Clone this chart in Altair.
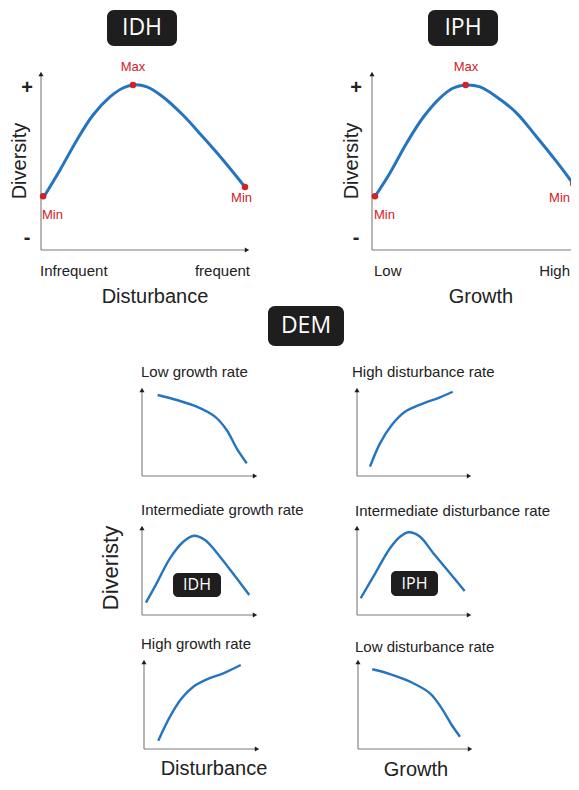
import altair as alt
import pandas as pd

# ---------------- data (local units: 0-10 along each axis) ----------------
# Top panels: hump-shaped diversity curves
idh_x = [0.19, 0.91, 1.72, 2.49, 3.30, 3.92, 4.40, 5.07, 5.84, 6.79, 7.75, 8.71, 9.76]
idh_y = [3.07, 4.47, 6.15, 7.54, 8.55, 9.05, 9.22, 9.11, 8.55, 7.54, 6.31, 5.03, 3.52]
iph_x = [0.19, 0.86, 1.66, 2.46, 3.25, 3.89, 4.48, 5.17, 5.97, 6.92, 7.88, 8.84, 9.63]
iph_y = [3.07, 4.30, 5.98, 7.43, 8.49, 9.05, 9.22, 9.11, 8.55, 7.65, 6.31, 4.92, 3.69]

# DEM small panels
low_growth_x = [1.35, 2.99, 4.71, 6.29, 7.30, 8.16, 9.03]
low_growth_y = [9.10, 8.54, 7.79, 6.67, 5.17, 3.11, 1.43]
high_dist_x = [1.13, 2.00, 3.02, 4.17, 5.77, 7.22, 8.32]
high_dist_y = [1.05, 3.67, 5.73, 7.22, 8.17, 8.84, 9.47]
int_growth_x = [0.34, 1.26, 2.41, 3.56, 4.48, 5.43, 6.72, 8.16, 9.25]
int_growth_y = [1.37, 3.52, 6.30, 8.14, 8.81, 8.33, 6.48, 4.08, 2.22]
int_dist_x = [0.32, 1.42, 2.87, 3.74, 4.52, 5.48, 6.64, 8.09, 9.36]
int_dist_y = [1.86, 4.26, 7.41, 8.70, 9.19, 8.70, 6.86, 4.63, 2.67]
high_growth_x = [1.23, 2.24, 3.25, 4.25, 5.41, 6.84, 8.34]
high_growth_y = [0.92, 3.59, 5.63, 6.92, 7.74, 8.41, 9.33]
low_dist_x = [1.24, 2.78, 4.52, 6.26, 7.28, 8.15, 8.87]
low_dist_y = [8.86, 8.33, 7.48, 6.19, 4.52, 2.67, 1.37]

# Marked points (Min, Max, Min) on the top curves
idh_mark_x = [0.10, 4.40, 9.76]
idh_mark_y = [3.00, 9.22, 3.52]
iph_mark_x = [0.14, 4.48, 9.63]
iph_mark_y = [3.00, 9.22, 3.69]
mark_labels = ["Min", "Max", "Min"]

# Texts
badge_top = ["IDH", "IPH"]
badge_mid = ["DEM"]
badge_small = ["IDH", "IPH"]
dem_titles = ["Low growth rate", "High disturbance rate",
              "Intermediate growth rate", "Intermediate disturbance rate",
              "High growth rate", "Low disturbance rate"]
top_x_ends = [["Infrequent", "frequent"], ["Low", "High"]]
top_x_titles = ["Disturbance", "Growth"]
top_y_title = "Diversity"
dem_y_title = "Diveristy"
dem_x_titles = ["Disturbance", "Growth"]

# ---------------- layout (page pixels) ----------------
# panel frame: axis origin (x0, y0), axis lengths (w, h)
frames = {
    "idh": (41, 250, 209, 179),
    "iph": (372, 250, 209, 179),
    "lg": (142, 476, 116, 89),
    "hd": (357, 476, 115, 89),
    "ig": (142, 615, 116, 90),
    "id": (357, 615, 115, 90),
    "hg": (144, 749, 116, 90),
    "ld": (358, 749, 115, 90),
}

def to_page(name, xs, ys):
    x0, y0, w, h = frames[name]
    return [x0 + x / 10 * w for x in xs], [y0 - y / 10 * h for y in ys]

BLUE = "#2475c0"
RED = "#d42027"
DARK = "#1e1e1e"
AXIS = "#7a7a7a"
FONT = "Liberation Sans"
BFONT = "Open Sans"

# page area visible inside the 8px body margin
PX0, PX1, PY0, PY1 = 8, 571, 8, 782
xsc = alt.Scale(domain=[PX0, PX1], nice=False, zero=False)
ysc = alt.Scale(domain=[PY0, PY1], nice=False, zero=False, reverse=True)
X = lambda f="px": alt.X(f"{f}:Q", scale=xsc, axis=None)
Y = lambda f="py": alt.Y(f"{f}:Q", scale=ysc, axis=None)

# ---- curves ----
def curve_df(items):
    rows = []
    for name, xs, ys in items:
        px, py = to_page(name, xs, ys)
        for i, (a, b) in enumerate(zip(px, py)):
            rows.append({"panel": name, "i": i, "px": a, "py": b})
    return pd.DataFrame(rows)

big = curve_df([("idh", idh_x, idh_y), ("iph", iph_x, iph_y)])
small = curve_df([("lg", low_growth_x, low_growth_y), ("hd", high_dist_x, high_dist_y),
                  ("ig", int_growth_x, int_growth_y), ("id", int_dist_x, int_dist_y),
                  ("hg", high_growth_x, high_growth_y), ("ld", low_dist_x, low_dist_y)])

big_line = alt.Chart(big).mark_line(color=BLUE, strokeWidth=3, interpolate="catmull-rom").encode(
    x=X(), y=Y(), detail="panel:N", order="i:Q")
small_line = alt.Chart(small).mark_line(color=BLUE, strokeWidth=2.4, interpolate="catmull-rom").encode(
    x=X(), y=Y(), detail="panel:N", order="i:Q")

# ---- axes with arrowheads ----
ax_rows, tip_up, tip_right = [], [], []
for name, (x0, y0, w, h) in frames.items():
    ax_rows.append({"px": x0, "py": y0, "px2": x0 + w - 3, "py2": y0})
    ax_rows.append({"px": x0, "py": y0, "px2": x0, "py2": y0 - h + 3})
    tip_right.append({"px": x0 + w - 3, "py": y0})
    tip_up.append({"px": x0, "py": y0 - h + 3})
axes = alt.Chart(pd.DataFrame(ax_rows)).mark_rule(color=AXIS, strokeWidth=1.1).encode(
    x=X(), y=Y(), x2="px2:Q", y2="py2:Q")
arrow_up = alt.Chart(pd.DataFrame(tip_up)).mark_point(
    shape="triangle-up", filled=True, color=DARK, size=26, opacity=1).encode(x=X(), y=Y())
arrow_right = alt.Chart(pd.DataFrame(tip_right)).mark_point(
    shape="triangle-right", filled=True, color=DARK, size=26, opacity=1).encode(x=X(), y=Y())

# ---- red marked points ----
mrows = []
for name, xs, ys in [("idh", idh_mark_x, idh_mark_y), ("iph", iph_mark_x, iph_mark_y)]:
    px, py = to_page(name, xs, ys)
    for a, b in zip(px, py):
        mrows.append({"px": a, "py": b})
dots = alt.Chart(pd.DataFrame(mrows)).mark_circle(color=RED, size=42, opacity=1).encode(x=X(), y=Y())

# ---- badges ----
badge_boxes = pd.DataFrame([
    {"px": 107, "px2": 177, "py": 10, "py2": 46},
    {"px": 428, "px2": 498, "py": 10, "py2": 46},
    {"px": 268, "px2": 344, "py": 306, "py2": 346},
])
small_boxes = pd.DataFrame([
    {"px": 173, "px2": 221, "py": 573, "py2": 597},
    {"px": 391, "px2": 438, "py": 571, "py2": 596},
])
boxes = alt.Chart(badge_boxes).mark_rect(color=DARK, cornerRadius=7).encode(
    x=X(), x2="px2:Q", y=Y(), y2="py2:Q")
sboxes = alt.Chart(small_boxes).mark_rect(color=DARK, cornerRadius=5).encode(
    x=X(), x2="px2:Q", y=Y(), y2="py2:Q")

def text_layer(rows, size, color="#222222", align="center", weight="normal", angle=0, font=FONT):
    kw = dict(fontSize=size, color=color, align=align, baseline="middle",
              fontWeight=weight, font=font)
    if angle:
        kw["angle"] = angle
    return alt.Chart(pd.DataFrame(rows)).mark_text(**kw).encode(x=X(), y=Y(), text="t:N")

big_badge_txt = text_layer([
    {"px": 142, "py": 28, "t": badge_top[0]},
    {"px": 463, "py": 28, "t": badge_top[1]},
    {"px": 306, "py": 326, "t": badge_mid[0]},
], 23, color="white", font=BFONT)
small_badge_txt = text_layer([
    {"px": 197, "py": 585, "t": badge_small[0]},
    {"px": 414.5, "py": 583.5, "t": badge_small[1]},
], 16, color="white", font=BFONT)

# red labels
red_center = text_layer([
    {"px": 133, "py": 67, "t": mark_labels[1]},
    {"px": 466, "py": 67, "t": mark_labels[1]},
], 13, color=RED)
red_left = text_layer([
    {"px": 42, "py": 215, "t": mark_labels[0]},
    {"px": 374, "py": 215, "t": mark_labels[0]},
], 13, color=RED, align="left")
red_right = text_layer([
    {"px": 252, "py": 198, "t": mark_labels[2]},
    {"px": 570, "py": 198, "t": mark_labels[2]},
], 13, color=RED, align="right")

# plus / minus
pm = text_layer([
    {"px": 27, "py": 88, "t": "+"}, {"px": 356, "py": 88, "t": "+"},
    {"px": 27, "py": 238, "t": "-"}, {"px": 356, "py": 238, "t": "-"},
], 20, weight="bold")

# top axis end labels
ends_left = text_layer([
    {"px": 40, "py": 271, "t": top_x_ends[0][0]},
    {"px": 374, "py": 271, "t": top_x_ends[1][0]},
], 15, align="left")
ends_right = text_layer([
    {"px": 250, "py": 271, "t": top_x_ends[0][1]},
    {"px": 570, "py": 271, "t": top_x_ends[1][1]},
], 15, align="right")

x_titles = text_layer([
    {"px": 155, "py": 297, "t": top_x_titles[0]},
    {"px": 481, "py": 297, "t": top_x_titles[1]},
    {"px": 214, "py": 769, "t": dem_x_titles[0]},
    {"px": 416, "py": 770, "t": dem_x_titles[1]},
], 20)

y_titles = text_layer([
    {"px": 20, "py": 161, "t": top_y_title},
    {"px": 352, "py": 161, "t": top_y_title},
], 20, angle=270)
y_dem = text_layer([
    {"px": 111, "py": 568, "t": dem_y_title},
], 22, angle=270)

titles = text_layer([
    {"px": 141, "py": 372, "t": dem_titles[0]},
    {"px": 352, "py": 372, "t": dem_titles[1]},
    {"px": 141, "py": 510, "t": dem_titles[2]},
    {"px": 355, "py": 511, "t": dem_titles[3]},
    {"px": 141, "py": 644, "t": dem_titles[4]},
    {"px": 355, "py": 647, "t": dem_titles[5]},
], 15, align="left")

chart = alt.layer(
    axes, arrow_up, arrow_right, big_line, small_line, dots,
    boxes, sboxes, big_badge_txt, small_badge_txt,
    red_center, red_left, red_right, pm, ends_left, ends_right,
    x_titles, y_titles, y_dem, titles,
).properties(
    width=PX1 - PX0, height=PY1 - PY0, padding=0,
    autosize=alt.AutoSizeParams(type="none"),
    background="white",
).configure_view(stroke=None)

chart.save("out.html", embed_options={"renderer": "svg", "actions": False})
